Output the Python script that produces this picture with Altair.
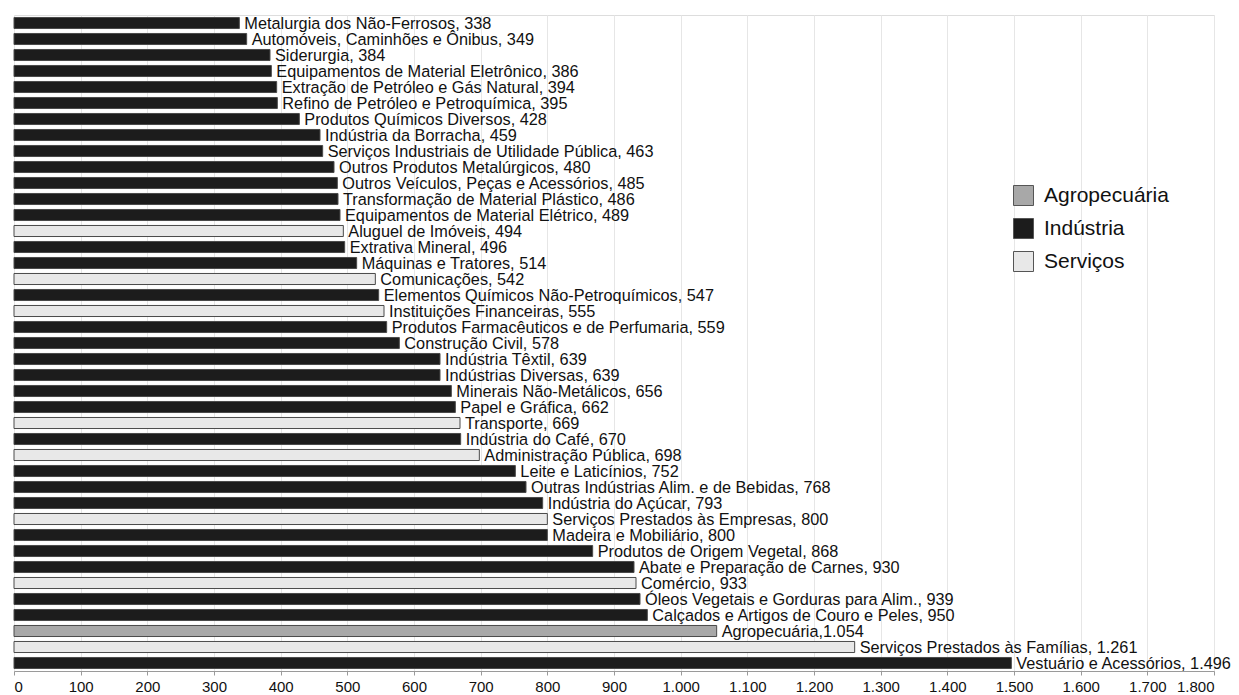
import altair as alt
import pandas as pd

names = [
    "Metalurgia dos Não-Ferrosos",
    "Automóveis, Caminhões e Ônibus",
    "Siderurgia",
    "Equipamentos de Material Eletrônico",
    "Extração de Petróleo e Gás Natural",
    "Refino de Petróleo e Petroquímica",
    "Produtos Químicos Diversos",
    "Indústria da Borracha",
    "Serviços Industriais de Utilidade Pública",
    "Outros Produtos Metalúrgicos",
    "Outros Veículos,  Peças e Acessórios",
    "Transformação de Material Plástico",
    "Equipamentos de Material Elétrico",
    "Aluguel de Imóveis",
    "Extrativa Mineral",
    "Máquinas e Tratores",
    "Comunicações",
    "Elementos Químicos Não-Petroquímicos",
    "Instituições Financeiras",
    "Produtos Farmacêuticos e de Perfumaria",
    "Construção Civil",
    "Indústria Têxtil",
    "Indústrias Diversas",
    "Minerais Não-Metálicos",
    "Papel e Gráfica",
    "Transporte",
    "Indústria do Café",
    "Administração Pública",
    "Leite e Laticínios",
    "Outras Indústrias Alim. e de Bebidas",
    "Indústria do Açúcar",
    "Serviços Prestados às Empresas",
    "Madeira e Mobiliário",
    "Produtos de Origem Vegetal",
    "Abate e Preparação de Carnes",
    "Comércio",
    "Óleos Vegetais e Gorduras para Alim.",
    "Calçados e Artigos de Couro e Peles",
    "Agropecuária",
    "Serviços Prestados às Famílias",
    "Vestuário e Acessórios",
]

values = [338, 349, 384, 386, 394, 395, 428, 459, 463, 480, 485, 486, 489, 494,
          496, 514, 542, 547, 555, 559, 578, 639, 639, 656, 662, 669, 670, 698,
          752, 768, 793, 800, 800, 868, 930, 933, 939, 950, 1054, 1261, 1496]

I, S, A = "Indústria", "Serviços", "Agropecuária"
sectors = [I, I, I, I, I, I, I, I, I, I, I, I, I, S,
           I, I, S, I, S, I, I, I, I, I, I, S, I, S,
           I, I, I, S, I, I, I, S, I, I, A, S, I]

separators = [", "] * len(names)
separators[names.index("Agropecuária")] = ","


def fmt(v):
    return format(v, ",").replace(",", ".")


labels = [f"{n}{sep}{fmt(v)}" for n, sep, v in zip(names, separators, values)]

df = pd.DataFrame({"name": names, "value": values, "sector": sectors, "label": labels})

FONT = "Liberation Sans"

base = alt.Chart(df)

bars = base.mark_bar(stroke="#4a4a4a", strokeWidth=1).encode(
    y=alt.Y("name:N", sort=names, axis=None,
            scale=alt.Scale(paddingInner=0.31)),
    x=alt.X("value:Q",
            scale=alt.Scale(domain=[0, 1800], nice=False),
            axis=alt.Axis(values=list(range(0, 1801, 100)),
                          labelExpr="replace(format(datum.value, ','), ',', '.')",
                          grid=True, gridColor="#e6e6e6", gridWidth=1,
                          domainColor="#9a9a9a", tickColor="#9a9a9a", tickSize=4,
                          labelFontSize=15, labelFont=FONT, labelColor="#111111",
                          labelPadding=4, title=None)),
    color=alt.Color("sector:N",
                    scale=alt.Scale(domain=[A, I, S],
                                    range=["#a8a8a8", "#1c1c1c", "#e8e8e8"]),
                    legend=alt.Legend(title=None, orient="none", legendX=999, legendY=170,
                                      symbolType="square", symbolSize=400,
                                      symbolStrokeColor="#555555", symbolStrokeWidth=1,
                                      labelFontSize=21, labelFont=FONT, labelColor="#111111",
                                      rowPadding=8, padding=0, labelOffset=10)),
)

text = base.mark_text(align="left", baseline="alphabetic", dx=5, dy=5.5, fontSize=16.3,
                      font=FONT, color="#111111").encode(
    y=alt.Y("name:N", sort=names),
    x=alt.X("value:Q"),
    text="label:N",
)

chart = (bars + text).properties(
    width=1200, height=656,
    autosize=alt.AutoSizeParams(type="none"),
    padding={"left": 14, "top": 15, "right": 25, "bottom": 24},
).configure_view(stroke=None).configure(font=FONT)

chart.save("out.html", embed_options={"renderer": "svg", "actions": False})
